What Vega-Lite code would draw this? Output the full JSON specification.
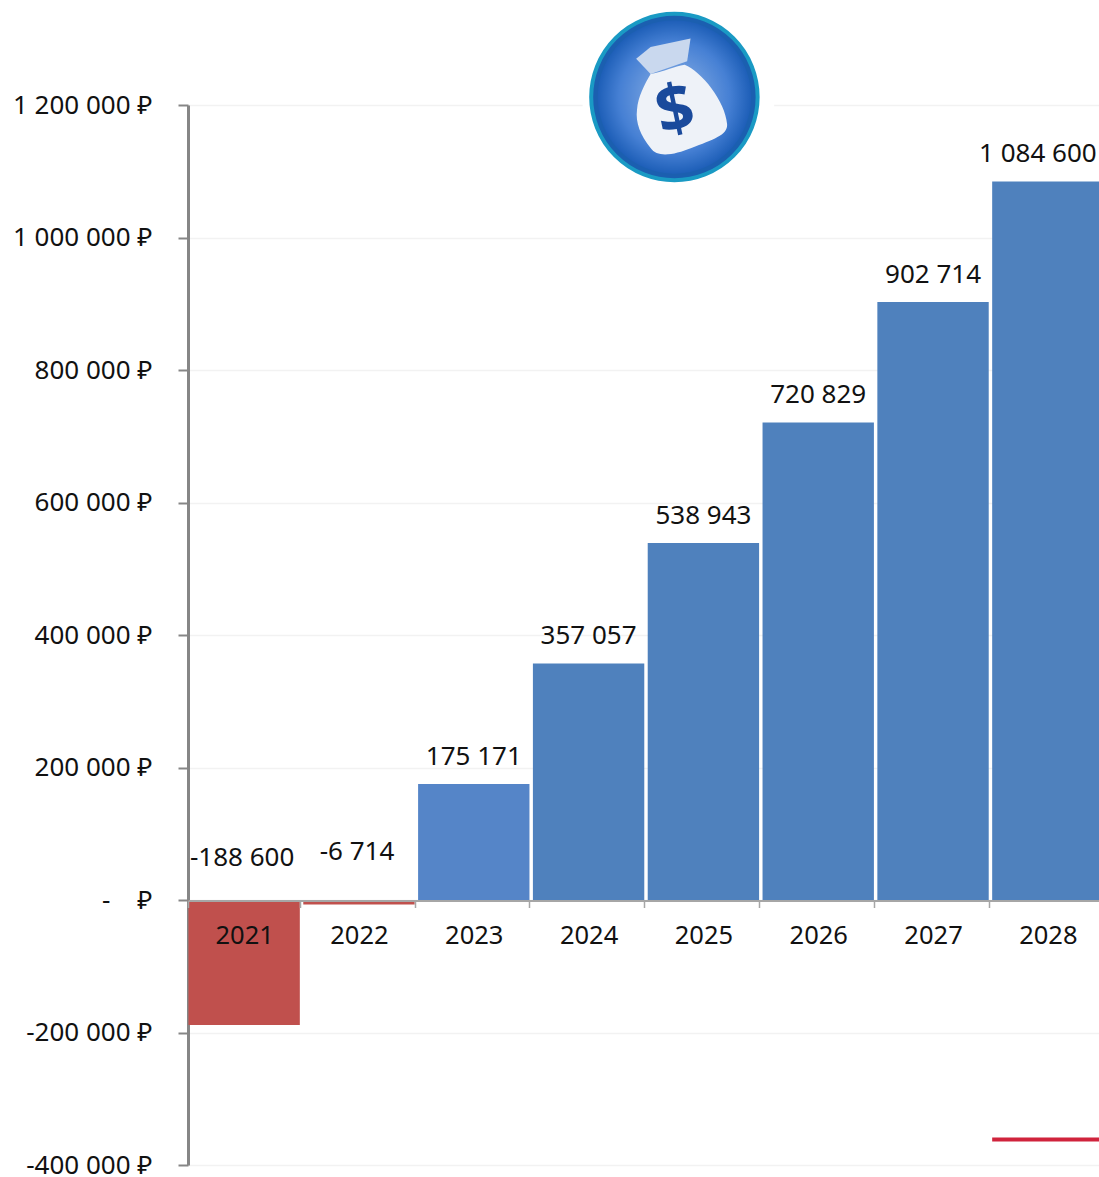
{
"$schema":"https://vega.github.io/schema/vega-lite/v6.json",
"autosize":{"type":"none"},
"padding":{"left":188,"top":105,"right":0,"bottom":12},
"width":911,"height":1060,
"background":"white",
"config":{"view":{"stroke":null},"text":{"font":"Noto Sans"}},
"datasets":{"bars":[
{"year":"2021","value":-188600,"label":"-188 600"},
{"year":"2022","value":-6714,"label":"-6 714"},
{"year":"2023","value":175171,"label":"175 171"},
{"year":"2024","value":357057,"label":"357 057"},
{"year":"2025","value":538943,"label":"538 943"},
{"year":"2026","value":720829,"label":"720 829"},
{"year":"2027","value":902714,"label":"902 714"},
{"year":"2028","value":1084600,"label":"1 084 600"}],
"icon":[{"year":"2025","value":1212000}],
"dollar":[{"year":"2025","value":1190000,"sign":"$"}],
"redline":[{"year":"2028","from":-358500,"to":-364500}]},
"encoding":{
"x":{"field":"year","type":"ordinal","sort":null,"scale":{"domain":["2021","2022","2023","2024","2025","2026","2027","2028"],"range":[0,916],"paddingInner":0.03,"paddingOuter":0.004},
 "axis":{"title":null,"orient":"bottom","offset":-264.5,"tickBand":"extent","tickSize":7,"tickColor":"#a6a6a6","tickWidth":1.5,"domainColor":"#a6a6a6","domainWidth":2,"labelAngle":0,"labelFont":"Noto Sans","labelFontSize":25.5,"labelColor":"#111111","labelPadding":16,"labelBaseline":"top","grid":false,"zindex":1}}
},
"layer":[
{"data":{"name":"bars"},"mark":{"type":"bar"},
 "encoding":{"y":{"field":"value","type":"quantitative","scale":{"domain":[-400000,1200000],"range":[1060,0],"nice":false,"zero":false},
   "axis":{"title":null,"values":[-400000,-200000,0,200000,400000,600000,800000,1000000,1200000],"labelExpr":"datum.value==0?'-\u00a0\u00a0\u00a0\u00a0₽':replace(replace(format(datum.value,','),/,/g,' '),/−/g,'-')+' ₽'","labelFont":"Noto Sans","labelFontSize":26,"labelColor":"#111111","labelPadding":26,"tickSize":10,"tickColor":"#868686","tickWidth":2,"domainColor":"#868686","domainWidth":3,"grid":true,"gridColor":"#f2f2f2","gridWidth":1.5,"zindex":0}},
  "color":{"field":"year","type":"nominal","legend":null,"scale":{"domain":["2021","2022","2023","2024","2025","2026","2027","2028"],"range":["#C0504D","#C0504D","#5585C8","#4F81BD","#4F81BD","#4F81BD","#4F81BD","#4F81BD"]}}}},
{"data":{"name":"redline"},"mark":{"type":"bar","color":"#D0233C"},
 "encoding":{"y":{"field":"from","type":"quantitative"},"y2":{"field":"to"}}},
{"data":{"name":"bars"},"transform":[{"filter":"datum.value>0 && datum.year!='2028'"}],"mark":{"type":"text","dy":-27,"fontSize":26,"color":"#111111","font":"Noto Sans"},
 "encoding":{"y":{"field":"value","type":"quantitative"},"text":{"field":"label"}}},
{"data":{"name":"bars"},"transform":[{"filter":"datum.year=='2028'"}],"mark":{"type":"text","dy":-27,"xOffset":-10,"fontSize":26,"color":"#111111","font":"Noto Sans"},
 "encoding":{"y":{"field":"value","type":"quantitative"},"text":{"field":"label"}}},
{"data":{"name":"bars"},"transform":[{"filter":"datum.year=='2022'"}],"mark":{"type":"text","dy":-48,"xOffset":-2,"fontSize":26,"color":"#111111","font":"Noto Sans"},
 "encoding":{"y":{"datum":0,"type":"quantitative"},"text":{"field":"label"}}},
{"data":{"name":"bars"},"transform":[{"filter":"datum.year=='2021'"}],"mark":{"type":"text","dy":-42,"xOffset":-2,"fontSize":26,"color":"#111111","font":"Noto Sans"},
 "encoding":{"y":{"datum":0,"type":"quantitative"},"text":{"field":"label"}}},
{"data":{"name":"icon"},"mark":{"type":"point","shape":"circle","filled":true,"opacity":1,"size":37000,"color":"#ffffff","xOffset":-25},
 "encoding":{"y":{"field":"value","type":"quantitative"}}},
{"data":{"name":"icon"},"mark":{"type":"point","shape":"circle","filled":true,"opacity":1,"size":27700,"xOffset":-29,"fill":"#1B5FB0","stroke":"#1A9AC4","strokeWidth":4},
 "encoding":{"y":{"field":"value","type":"quantitative"}}},
{"data":{"name":"icon"},"mark":{"type":"point","shape":"circle","filled":true,"opacity":1,"size":23500,"xOffset":-29,"fill":{"gradient":"radial","x1":0.5,"y1":0.5,"r1":0.1,"x2":0.5,"y2":0.5,"r2":0.5,"stops":[{"offset":0,"color":"#7FA8E2"},{"offset":0.65,"color":"#4680D4"},{"offset":1,"color":"#1E5FB8"}]},"stroke":null},
 "encoding":{"y":{"field":"value","type":"quantitative"}}},
{"data":{"name":"icon"},"mark":{"type":"point","filled":true,"opacity":1,"size":28900,"xOffset":-29,"fill":"#C9D8EE","shape":"M -0.45 -0.45 L -0.28 -0.59 L 0.19 -0.69 L 0.15 -0.42 L -0.28 -0.27 Z"},
 "encoding":{"y":{"field":"value","type":"quantitative"}}},
{"data":{"name":"icon"},"mark":{"type":"point","filled":true,"opacity":1,"size":28900,"xOffset":-29,"fill":"#EEF2F8","shape":"M -0.28 -0.27 C -0.12 -0.3 0 -0.36 0.12 -0.38 C 0.32 -0.3 0.6 0.05 0.62 0.32 C 0.63 0.45 0.45 0.5 0.2 0.6 C 0 0.68 -0.2 0.72 -0.28 0.6 C -0.4 0.45 -0.46 0.3 -0.44 0.15 C -0.43 0 -0.35 -0.15 -0.28 -0.27 Z"},
 "encoding":{"y":{"field":"value","type":"quantitative"}}},
{"data":{"name":"dollar"},"mark":{"type":"text","xOffset":-28,"fontSize":66,"fontWeight":"bold","color":"#1A4A9C","angle":-12,"font":"Noto Sans"},
 "encoding":{"y":{"field":"value","type":"quantitative"},"text":{"field":"sign"}}}
]
}
